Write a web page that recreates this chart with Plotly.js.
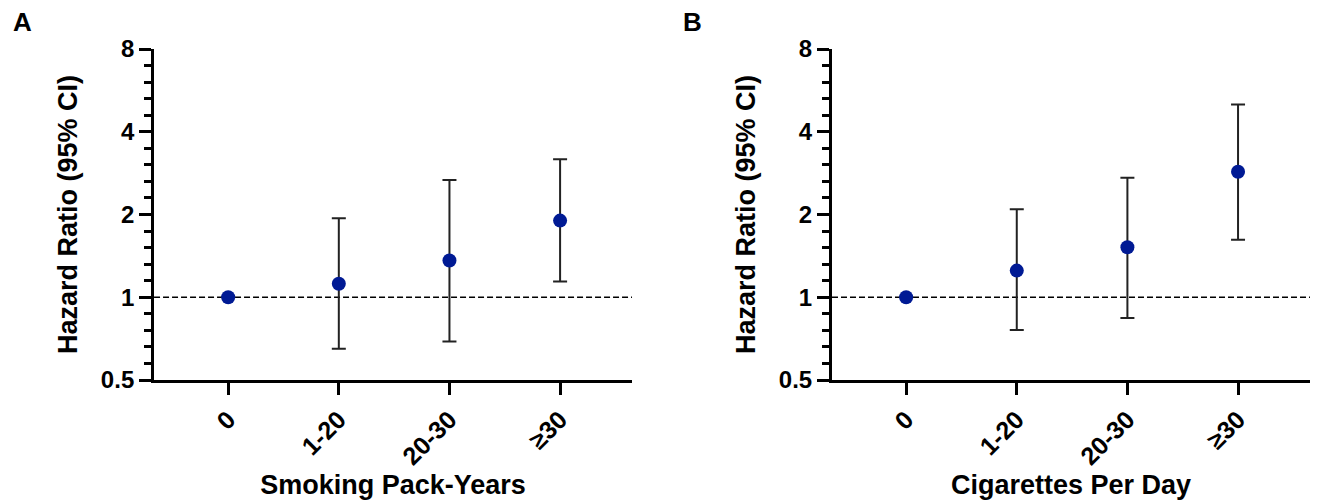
<!DOCTYPE html>
<html><head><meta charset="utf-8">
<script src="https://cdn.plot.ly/plotly-3.0.1.min.js"></script>
<style>html,body{margin:0;padding:0;background:#fff}#chart{width:1320px;height:500px}</style>
</head><body><div id="chart"></div>
<script>
// ---- data ----
const categories = ['0', '1-20', '20-30', '\u226530'];
const packYearsHR    = [1.00, 1.12, 1.36, 1.90];
const packYearsLower = [null, 0.65, 0.69, 1.14];
const packYearsUpper = [null, 1.94, 2.67, 3.18];
const cigsHR    = [1.00, 1.25, 1.52, 2.86];
const cigsLower = [null, 0.76, 0.84, 1.62];
const cigsUpper = [null, 2.09, 2.72, 5.03];
const yTickVals = [0.5, 1, 2, 4, 8];
const yTickText = ['0.5', '1', '2', '4', '8'];
const referenceHR = 1;
const panelLabels = ['A', 'B'];
const xTitles = ['Smoking Pack-Years', 'Cigarettes Per Day'];
const yTitle = 'Hazard Ratio (95% CI)';

// ---- build ----
const FONT = 'Liberation Sans, Arial, Helvetica, sans-serif';
const markerColor = '#001A94';
function plus(hr, up){ return hr.map((v,i)=> up[i]==null ? null : up[i]-v); }
function minus(hr, lo){ return hr.map((v,i)=> lo[i]==null ? null : v-lo[i]); }
function trace(hr, lo, up, xa, ya){
  return {
    type:'scatter', mode:'markers', x:categories, y:hr, xaxis:xa, yaxis:ya,
    marker:{color:markerColor, size:14},
    error_y:{type:'data', symmetric:false, array:plus(hr,up), arrayminus:minus(hr,lo),
             color:'#222222', thickness:2, width:7},
    showlegend:false, hoverinfo:'x+y'
  };
}
const data = [
  trace(packYearsHR, packYearsLower, packYearsUpper, 'x', 'y'),
  trace(cigsHR, cigsLower, cigsUpper, 'x2', 'y2')
];

// minor ticks: 4 per octave, evenly spaced on log scale
const minorVals = [];
for (let k=-1; k<3; k++) for (let j=1; j<5; j++) minorVals.push(Math.pow(2, k + j/5));

function xaxis(dom, title){
  return {
    domain:dom, range:[-0.67, 3.65], type:'category',
    showline:true, linecolor:'#000', linewidth:3, mirror:false,
    ticks:'outside', ticklen:12, tickwidth:3, tickcolor:'#000',
    tickangle:-45, tickfont:{family:FONT, size:25, color:'#000', weight:'bold'},
    showgrid:false, zeroline:false, fixedrange:true,
    title:{text:title, font:{family:FONT, size:27, color:'#000', weight:'bold'}, standoff:4}
  };
}
function yaxis(anchor){
  return {
    type:'log', domain:[0.24, 0.902], range:[Math.log10(0.5), Math.log10(8)], anchor:anchor,
    showline:true, linecolor:'#000', linewidth:3,
    tickmode:'array', tickvals:yTickVals, ticktext:yTickText,
    ticks:'outside', ticklen:12, tickwidth:3, tickcolor:'#000',
    minor:{tickmode:'array', tickvals:minorVals, ticks:'outside', ticklen:7, tickwidth:3, tickcolor:'#000', showgrid:false},
    tickfont:{family:FONT, size:24, color:'#000', weight:'bold'},
    showgrid:false, zeroline:false, fixedrange:true,
    title:{text:yTitle, font:{family:FONT, size:27, color:'#000', weight:'bold'}, standoff:16}
  };
}
const layout = {
  width:1320, height:500, margin:{l:0, r:0, t:0, b:0},
  paper_bgcolor:'#fff', plot_bgcolor:'#fff',
  xaxis: xaxis([0.1167, 0.4788], xTitles[0]),
  yaxis: yaxis('x'),
  xaxis2: Object.assign(xaxis([0.6303, 0.9924], xTitles[1]), {anchor:'y2'}),
  yaxis2: yaxis('x2'),
  shapes: [
    {type:'line', xref:'x domain', yref:'y', x0:0, x1:1, y0:referenceHR, y1:referenceHR,
     line:{color:'#000', width:1.5, dash:'6px,3px'}, layer:'below'},
    {type:'line', xref:'x2 domain', yref:'y2', x0:0, x1:1, y0:referenceHR, y1:referenceHR,
     line:{color:'#000', width:1.5, dash:'6px,3px'}, layer:'below'}
  ],
  annotations: [
    {text:panelLabels[0], xref:'paper', yref:'paper', x:22/1320, y:1-22/500, xanchor:'center', yanchor:'middle', showarrow:false,
     font:{family:FONT, size:26, color:'#000', weight:'bold'}},
    {text:panelLabels[1], xref:'paper', yref:'paper', x:692/1320, y:1-22/500, xanchor:'center', yanchor:'middle', showarrow:false,
     font:{family:FONT, size:26, color:'#000', weight:'bold'}}
  ]
};
layout.xaxis.anchor = 'y';
Plotly.newPlot('chart', data, layout, {displayModeBar:false, staticPlot:true});
</script></body></html>
